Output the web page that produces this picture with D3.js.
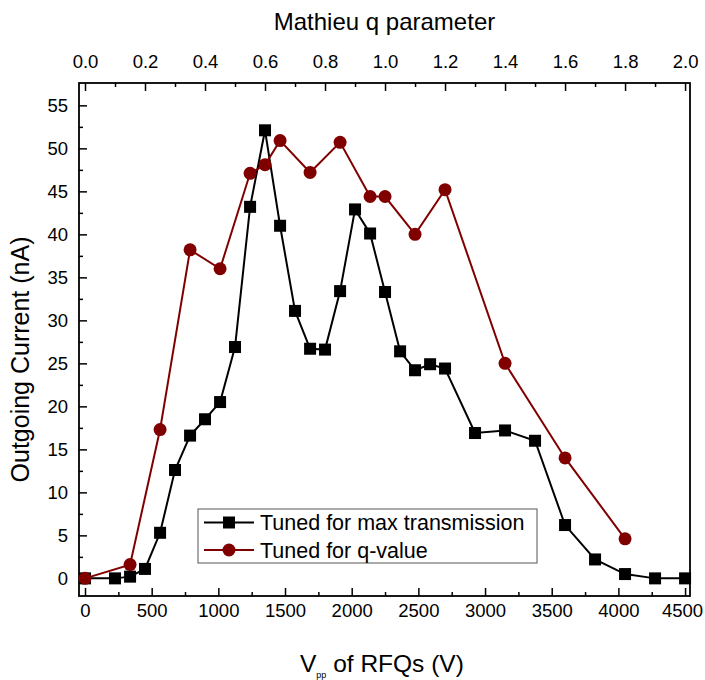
<!DOCTYPE html>
<html>
<head>
<meta charset="utf-8">
<script src="https://cdn.jsdelivr.net/npm/d3@7"></script>
<style>
  body { margin: 0; background: #fff; }
  text { font-family: "Liberation Sans", Arial, sans-serif; }
</style>
</head>
<body>
<div id="chart"></div>
<script>
// Tuned for max transmission (black squares)
var maxV = [0, 225, 338, 450, 563, 675, 788, 900, 1013, 1125, 1238, 1350, 1463, 1575, 1688, 1800, 1913, 2025, 2138, 2250, 2363, 2475, 2588, 2700, 2925, 3150, 3375, 3600, 3825, 4050, 4275, 4500];
var maxI = [0, 0, 0.2, 1.1, 5.3, 12.6, 16.6, 18.5, 20.5, 26.9, 43.2, 52.1, 41.0, 31.1, 26.7, 26.6, 33.4, 42.9, 40.1, 33.3, 26.4, 24.2, 24.9, 24.4, 16.9, 17.2, 16.0, 6.2, 2.2, 0.5, 0, 0];

// Tuned for q-value (dark red circles)
var qV = [0, 338, 563, 788, 1013, 1238, 1350, 1463, 1688, 1913, 2138, 2250, 2475, 2700, 3150, 3600, 4050];
var qI = [0, 1.6, 17.3, 38.2, 36.0, 47.1, 48.1, 50.9, 47.2, 50.7, 44.4, 44.4, 40.0, 45.2, 25.0, 14.0, 4.6];

var seriesNames = ["Tuned for max transmission", "Tuned for q-value"];
var seriesColors = ["#000000", "#800000"];

var xTicks = [0, 500, 1000, 1500, 2000, 2500, 3000, 3500, 4000, 4500];
var qTicks = [0, 0.2, 0.4, 0.6, 0.8, 1.0, 1.2, 1.4, 1.6, 1.8, 2.0];
var yTicks = [0, 5, 10, 15, 20, 25, 30, 35, 40, 45, 50, 55];

var W = 705, H = 680;
var margin = {top: 83, right: 15, bottom: 84, left: 79},
    width = W - margin.left - margin.right,
    height = H - margin.top - margin.bottom;

var svg = d3.select("#chart")
    .append("svg")
        .attr("width", W)
        .attr("height", H)
    .append("g")
        .attr("transform", "translate(" + margin.left + "," + margin.top + ")");

var x = d3.scaleLinear().domain([-45, 4537]).range([0, width]);
var q = d3.scaleLinear().domain([-45 * 2 / 4500, 4537 * 2 / 4500]).range([0, width]);
var y = d3.scaleLinear().domain([-2.05, 57.6]).range([height, 0]);

// bottom axis (ticks inward)
var bottomAxis = svg.append("g")
    .attr("transform", "translate(0," + height + ")")
    .call(d3.axisBottom(x).tickValues(xTicks).tickFormat(d3.format("d")).tickSize(-8).tickPadding(8));
svg.append("g")
    .attr("transform", "translate(0," + height + ")")
    .call(d3.axisBottom(x).tickValues(d3.range(250, 4500, 500)).tickFormat("").tickSize(-4));

// top axis
svg.append("g")
    .call(d3.axisTop(q).tickValues(qTicks).tickFormat(d3.format(".1f")).tickSize(-8).tickPadding(15));
svg.append("g")
    .call(d3.axisTop(q).tickValues(d3.range(0.1, 2.0, 0.2)).tickFormat("").tickSize(-4));

// left axis
svg.append("g")
    .call(d3.axisLeft(y).tickValues(yTicks).tickSize(-8).tickPadding(11));
svg.append("g")
    .call(d3.axisLeft(y).tickValues(d3.range(2.5, 57, 5)).tickFormat("").tickSize(-4));

svg.selectAll(".domain").remove();
svg.selectAll(".tick line").attr("stroke", "#000").attr("stroke-width", 1.5);
svg.selectAll(".tick text").attr("font-size", 18.5).attr("fill", "#000")
    .style("font-family", "'Liberation Sans', Arial, sans-serif");
// keep last bottom label inside the window
bottomAxis.selectAll(".tick text").filter(function(d) { return d === 4500; }).attr("dx", -3);

// frame
svg.append("rect")
    .attr("width", width)
    .attr("height", height)
    .attr("fill", "none")
    .attr("stroke", "#000")
    .attr("stroke-width", 1.8);

// lines
var line = d3.line()
    .x(function(d) { return x(d[0]); })
    .y(function(d) { return y(d[1]); });

var maxData = maxV.map(function(v, i) { return [v, maxI[i]]; });
var qData = qV.map(function(v, i) { return [v, qI[i]]; });

svg.append("path")
    .datum(maxData)
    .attr("fill", "none")
    .attr("stroke", seriesColors[0])
    .attr("stroke-width", 2)
    .attr("d", line);

svg.append("path")
    .datum(qData)
    .attr("fill", "none")
    .attr("stroke", seriesColors[1])
    .attr("stroke-width", 2)
    .attr("d", line);

svg.selectAll(".sq")
    .data(maxData)
    .enter().append("rect")
        .attr("x", function(d) { return x(d[0]) - 6; })
        .attr("y", function(d) { return y(d[1]) - 6; })
        .attr("width", 12)
        .attr("height", 12)
        .attr("fill", seriesColors[0]);

svg.selectAll(".ci")
    .data(qData)
    .enter().append("circle")
        .attr("cx", function(d) { return x(d[0]); })
        .attr("cy", function(d) { return y(d[1]); })
        .attr("r", 6.5)
        .attr("fill", seriesColors[1]);

// legend
var legend = svg.append("g").attr("transform", "translate(119,426)");
legend.append("rect")
    .attr("width", 339)
    .attr("height", 54)
    .attr("fill", "#fff")
    .attr("stroke", "#555")
    .attr("stroke-width", 1);

seriesNames.forEach(function(name, i) {
    var row = legend.append("g").attr("transform", "translate(0," + (13.5 + i * 27.5) + ")");
    row.append("line")
        .attr("x1", 6).attr("x2", 56)
        .attr("stroke", seriesColors[i])
        .attr("stroke-width", 2);
    if (i === 0) {
        row.append("rect").attr("x", 25).attr("y", -6).attr("width", 12).attr("height", 12).attr("fill", seriesColors[i]);
    } else {
        row.append("circle").attr("cx", 31).attr("r", 6.5).attr("fill", seriesColors[i]);
    }
    row.append("text")
        .attr("x", 62)
        .attr("y", 7.5)
        .attr("font-size", 21.5)
        .text(name);
});

// titles
svg.append("text")
    .attr("x", width / 2)
    .attr("y", -53)
    .attr("text-anchor", "middle")
    .attr("font-size", 24)
    .text("Mathieu q parameter");

var xt = svg.append("text")
    .attr("x", 221)
    .attr("y", height + 76)
    .attr("font-size", 24.5);
xt.append("tspan").text("V");
xt.append("tspan").attr("font-size", 9).attr("dy", 6).text("pp");
xt.append("tspan").attr("dy", -6).text(" of RFQs (V)");

svg.append("text")
    .attr("transform", "translate(-50," + (height / 2 + 20) + ")rotate(-90)")
    .attr("text-anchor", "middle")
    .attr("font-size", 25)
    .text("Outgoing Current (nA)");
</script>
</body>
</html>
